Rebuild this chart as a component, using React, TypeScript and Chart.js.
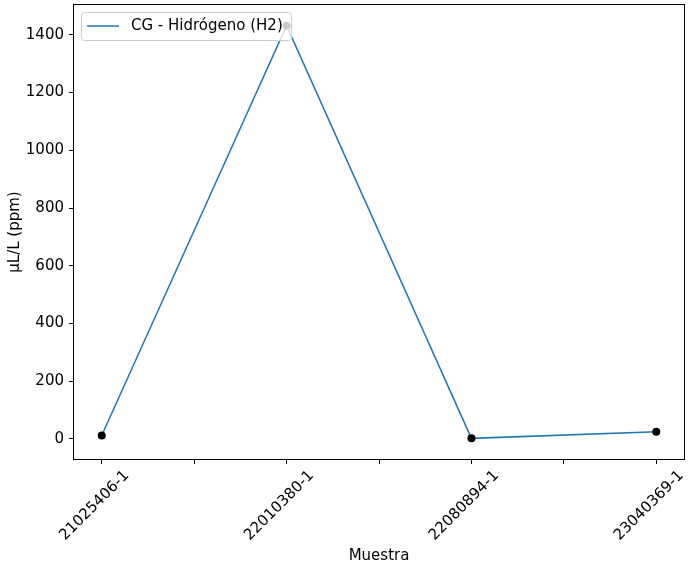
import React, { useEffect, useRef } from 'react';
import { Chart, registerables } from 'chart.js';

Chart.register(...registerables);

const categories = ['21025406-1', '22010380-1', '22080894-1', '23040369-1'];
const values = [12, 1432, 2, 25];
const yTickValues = [0, 200, 400, 600, 800, 1000, 1200, 1400];
const xTickValues = [0, 0.5, 1, 1.5, 2, 2.5, 3];
const seriesLabel = 'CG - Hidrógeno (H2)';
const xTitle = 'Muestra';
const yTitle = 'µL/L (ppm)';

const FONT = "'DejaVu Sans', sans-serif";
const FS = 15;
const LINE_COLOR = '#1f77b4';

const vMin = Math.min(...values);
const vMax = Math.max(...values);
const yMin = vMin - 0.05 * (vMax - vMin);
const yMax = vMax + 0.05 * (vMax - vMin);
const xMin = -0.05 * (categories.length - 1);
const xMax = categories.length - 1 + 0.05 * (categories.length - 1);

const framePlugin = {
  id: 'frameAndLegend',
  afterDraw(chart: any) {
    const { ctx, chartArea: a } = chart;
    ctx.save();
    ctx.strokeStyle = '#000';
    ctx.lineWidth = 1;
    ctx.strokeRect(Math.round(a.left) - 0.5, Math.round(a.top) - 0.5, Math.round(a.right - a.left) + 1, Math.round(a.bottom - a.top) + 1);

    // legend
    const lx = 81.5, ly = 12.5, lw = 210, lh = 28, r = 3;
    ctx.beginPath();
    ctx.moveTo(lx + r, ly);
    ctx.lineTo(lx + lw - r, ly);
    ctx.quadraticCurveTo(lx + lw, ly, lx + lw, ly + r);
    ctx.lineTo(lx + lw, ly + lh - r);
    ctx.quadraticCurveTo(lx + lw, ly + lh, lx + lw - r, ly + lh);
    ctx.lineTo(lx + r, ly + lh);
    ctx.quadraticCurveTo(lx, ly + lh, lx, ly + lh - r);
    ctx.lineTo(lx, ly + r);
    ctx.quadraticCurveTo(lx, ly, lx + r, ly);
    ctx.closePath();
    ctx.fillStyle = 'rgba(255,255,255,0.8)';
    ctx.fill();
    ctx.strokeStyle = 'rgba(204,204,204,1)';
    ctx.stroke();

    ctx.beginPath();
    ctx.moveTo(87, 26);
    ctx.lineTo(119, 26);
    ctx.strokeStyle = LINE_COLOR;
    ctx.lineWidth = 1.5;
    ctx.stroke();

    ctx.fillStyle = '#000';
    ctx.font = `${FS}px ${FONT}`;
    ctx.textBaseline = 'middle';
    ctx.textAlign = 'left';
    ctx.fillText(seriesLabel, 131, 26.5);
    ctx.restore();
  },
};

export default function App() {
  const ref = useRef<HTMLCanvasElement>(null);

  useEffect(() => {
    if (!ref.current) return;
    const linePts = values.map((v, i) => ({ x: i, y: v }));
    const chart = new Chart(ref.current, {
      type: 'line',
      data: {
        datasets: [
          {
            label: seriesLabel,
            data: linePts,
            borderColor: LINE_COLOR,
            borderWidth: 1.5,
            pointRadius: 0,
            fill: false,
            tension: 0,
            order: 1,
          },
          {
            label: 'points',
            data: linePts,
            showLine: false,
            pointRadius: 4,
            pointBackgroundColor: '#000',
            pointBorderColor: '#000',
            pointBorderWidth: 0,
            order: 0,
          },
        ],
      },
      options: {
        responsive: false,
        animation: false,
        events: [],
        layout: { padding: { left: 0, top: 5, right: 9, bottom: 0 } },
        plugins: {
          legend: { display: false },
          tooltip: { enabled: false },
        },
        scales: {
          x: {
            type: 'linear',
            min: xMin,
            max: xMax,
            grid: { display: true, drawOnChartArea: false, drawTicks: true, tickLength: 5, color: '#000', lineWidth: 1 },
            border: { display: false },
            ticks: {
              color: '#000',
              font: { family: FONT, size: FS },
              maxRotation: 45,
              minRotation: 45,
              autoSkip: false,
              padding: 3,
              labelOffset: 25,
              callback: (v: any) => {
                const n = Number(v);
                return Number.isInteger(n) && n >= 0 && n < categories.length ? categories[n] : '';
              },
            },
            title: {
              display: true,
              text: xTitle,
              color: '#000',
              font: { family: FONT, size: FS },
              padding: { top: 0, bottom: 4 },
            },
            afterBuildTicks: (scale: any) => {
              scale.ticks = xTickValues.map((v) => ({ value: v }));
            },
            afterFit: (scale: any) => {
              scale.height = 110;
              scale.paddingLeft = 0;
              scale.paddingRight = 0;
            },
          },
          y: {
            type: 'linear',
            min: yMin,
            max: yMax,
            grid: { display: true, drawOnChartArea: false, drawTicks: true, tickLength: 5, color: '#000', lineWidth: 1 },
            border: { display: false },
            ticks: {
              color: '#000',
              font: { family: FONT, size: FS },
              padding: 5,
              callback: (v: any) => String(v),
            },
            title: {
              display: true,
              text: yTitle,
              color: '#000',
              font: { family: FONT, size: FS },
              padding: { top: 6.5, bottom: 0 },
            },
            afterBuildTicks: (scale: any) => {
              scale.ticks = yTickValues.map((v) => ({ value: v }));
            },
            afterFit: (scale: any) => {
              scale.width = 74;
              scale.paddingTop = 0;
              scale.paddingBottom = 0;
            },
          },
        },
      },
      plugins: [framePlugin],
    });
    return () => chart.destroy();
  }, []);

  return (
    <div style={{ position: 'absolute', left: 0, top: 0, width: 693, height: 569, background: '#fff' }}>
      <canvas ref={ref} width={693} height={569} />
    </div>
  );
}
